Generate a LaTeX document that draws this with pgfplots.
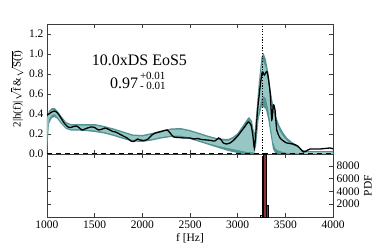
\documentclass[border=0pt]{standalone}
\usepackage{fontspec}
\setmainfont{Liberation Serif}
\usepackage{pgfplots}
\pgfplotsset{compat=1.18}
\usepackage{pgfplotstable}
\usepgfplotslibrary{fillbetween}
\definecolor{bandout}{RGB}{82,148,146}
\definecolor{bandin}{RGB}{150,199,197}
\definecolor{histred}{RGB}{140,52,52}
\definecolor{framec}{RGB}{60,60,60}

\pgfplotstableread{
f lo hi ilo ihi
1000 0.00 0.37 0.15 0.35
1020 0.30 0.43 0.35 0.41
1050 0.36 0.46 0.39 0.44
1080 0.37 0.46 0.40 0.44
1110 0.35 0.43 0.37 0.41
1150 0.30 0.38 0.32 0.36
1200 0.25 0.32 0.265 0.305
1250 0.235 0.30 0.25 0.285
1300 0.235 0.30 0.25 0.285
1400 0.23 0.30 0.245 0.285
1500 0.22 0.30 0.235 0.285
1600 0.205 0.28 0.22 0.265
1700 0.18 0.255 0.195 0.24
1800 0.15 0.225 0.165 0.21
1900 0.125 0.195 0.14 0.18
2000 0.12 0.19 0.135 0.175
2100 0.135 0.21 0.15 0.195
2200 0.155 0.235 0.17 0.22
2300 0.17 0.255 0.185 0.24
2400 0.17 0.26 0.185 0.245
2500 0.15 0.24 0.165 0.225
2600 0.12 0.21 0.135 0.195
2700 0.09 0.18 0.105 0.165
2800 0.06 0.155 0.08 0.14
2900 0.03 0.15 0.06 0.13
2950 0.02 0.17 0.05 0.15
3000 0.01 0.21 0.04 0.18
3050 0.00 0.28 0.03 0.24
3100 0.00 0.35 0.02 0.30
3120 0.00 0.37 0.02 0.32
3150 0.00 0.33 0.02 0.27
3175 0.00 0.20 0.01 0.15
3195 0.10 0.40 0.15 0.35
3220 0.35 0.70 0.42 0.62
3250 0.47 0.97 0.55 0.88
3270 0.47 1.01 0.58 0.92
3295 0.45 0.95 0.56 0.86
3320 0.35 0.82 0.45 0.72
3345 0.20 0.64 0.28 0.55
3370 0.05 0.50 0.12 0.43
3400 0.00 0.38 0.05 0.32
3440 0.00 0.28 0.03 0.23
3480 0.00 0.21 0.02 0.17
3520 0.00 0.16 0.01 0.13
3570 0.00 0.12 0.01 0.09
3620 0.00 0.09 0.005 0.07
3680 0.00 0.04 0.003 0.03
3750 0.00 0.03 0.00 0.02
4000 0.00 0.03 0.00 0.02
}\band

\pgfplotstableread{
f h
1000 0.39
1020 0.40
1050 0.42
1080 0.43
1110 0.41
1140 0.37
1180 0.31
1220 0.27
1250 0.265
1280 0.275
1310 0.28
1340 0.26
1370 0.24
1410 0.255
1460 0.27
1500 0.265
1540 0.24
1580 0.25
1610 0.26
1650 0.245
1690 0.225
1720 0.22
1760 0.20
1800 0.18
1840 0.16
1880 0.13
1910 0.125
1950 0.15
1980 0.14
2020 0.135
2060 0.15
2100 0.19
2140 0.21
2200 0.225
2260 0.24
2300 0.20
2330 0.17
2380 0.165
2440 0.16
2500 0.16
2540 0.15
2580 0.155
2620 0.145
2680 0.14
2720 0.135
2760 0.13
2800 0.16
2820 0.15
2850 0.11
2880 0.10
2920 0.11
2960 0.14
3000 0.18
3040 0.23
3080 0.28
3110 0.32
3140 0.29
3160 0.18
3175 0.06
3190 0.20
3210 0.45
3235 0.67
3258 0.82
3280 0.79
3310 0.82
3340 0.62
3358 0.34
3374 0.49
3392 0.44
3410 0.24
3445 0.16
3480 0.13
3515 0.11
3580 0.10
3630 0.08
3660 0.05
3690 0.02
3720 0.03
3760 0.05
3860 0.05
3970 0.06
4000 0.05
}\wave

\pgfplotsset{
  mystyle/.style={
    scale only axis,
    width=286pt,
    xmin=1000, xmax=4000,
    axis line style={framec},
    tick style={framec, line width=0.5pt},
    tick align=inside,
    major tick length=4pt,
    tick label style={font=\fontsize{11.5}{12}\selectfont},
    label style={font=\fontsize{11.5}{12}\selectfont},
    xtick={1000,1500,2000,2500,3000,3500,4000},
    xticklabel style={/pgf/number format/.cd, fixed, 1000 sep={}, assume math mode=true},
    yticklabel style={/pgf/number format/assume math mode=true},
  }
}

\begin{document}
\begin{tikzpicture}
\begin{axis}[mystyle,
  at={(0pt,0pt)}, anchor=south west,
  height=130pt,
  ymin=0, ymax=1.3,
  xticklabels={},
  ytick={0,0.2,0.4,0.6,0.8,1.0,1.2},
  yticklabel style={/pgf/number format/.cd, fixed, fixed zerofill, precision=1, assume math mode=true},
  ylabel={2|h(f)|$\sqrt{\mbox{f}}$\,\&$\sqrt{\mbox{S(f)}}$},
  ylabel style={at={(axis description cs:-0.105,0.5)}, anchor=center, font=\fontsize{11}{12}\selectfont},
]
\addplot[draw=none, name path=olo] table[x=f, y=lo] {\band};
\addplot[draw=none, name path=ohi] table[x=f, y=hi] {\band};
\addplot[fill=bandout, draw=none] fill between[of=olo and ohi];
\addplot[draw=none, name path=ilo] table[x=f, y=ilo] {\band};
\addplot[draw=none, name path=ihi] table[x=f, y=ihi] {\band};
\addplot[fill=bandin, draw=none] fill between[of=ilo and ihi];
\addplot[black, line width=1.3pt, smooth, tension=0.4] table[x=f, y=h] {\wave};
\addplot[black, line width=1.3pt, dash pattern=on 5pt off 4pt] coordinates {(1000,0.004) (4000,0.004)};
\addplot[black, line width=1.2pt, dash pattern=on 1.2pt off 1.5pt] coordinates {(3263,0) (3263,1.3)};
\node[anchor=base, font=\fontsize{16}{16}\selectfont] at (axis description cs:0.323,0.679) {10.0xDS EoS5};
\node[anchor=base, font=\fontsize{16}{16}\selectfont] at (axis description cs:0.318,0.505) {0.97\rlap{\raisebox{8.5pt}{\fontsize{11}{10}\selectfont\,+0.01}}\raisebox{-1pt}{\fontsize{11}{10}\selectfont\,- 0.01}};
\node[anchor=south west, font=\fontsize{11.5}{12}\selectfont, inner sep=0pt] at (axis description cs:0,1.02) {1e−22};
\end{axis}
\begin{axis}[mystyle,
  at={(0pt,0pt)}, anchor=north west,
  height=63pt,
  ymin=0, ymax=9850,
  ytick={2000,4000,6000,8000},
  yticklabel pos=right,
  scaled y ticks=false,
  yticklabel style={/pgf/number format/.cd, fixed, 1000 sep={}, assume math mode=true},
  xlabel={f [Hz]},
  xlabel style={yshift=2pt},
  ylabel={PDF},
  ylabel style={at={(axis description cs:1.122,0.5)}, anchor=center},
]
\addplot[fill=gray!35, draw=black, line width=0.5pt] coordinates {(3240,0) (3240,250) (3255,250) (3255,0)} \closedcycle;
\addplot[fill=gray!35, draw=black, line width=0.5pt] coordinates {(3255,0) (3255,9500) (3273,9500) (3273,0)} \closedcycle;
\addplot[fill=histred, draw=black, line width=0.5pt] coordinates {(3273,0) (3273,9800) (3305,9800) (3305,0)} \closedcycle;
\addplot[fill=histred, draw=black, line width=0.5pt] coordinates {(3305,0) (3305,1800) (3323,1800) (3323,0)} \closedcycle;
\end{axis}
\pgfresetboundingbox
\path[use as bounding box] (-47pt,-95pt) rectangle (327pt,154pt);
\end{tikzpicture}
\end{document}
